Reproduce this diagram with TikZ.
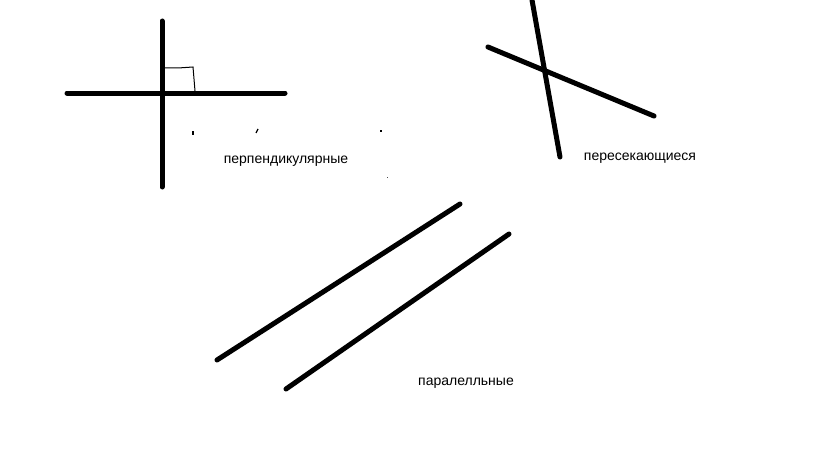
\documentclass[tikz,border=0pt]{standalone}
\usepackage{fontspec}
\setmainfont{Liberation Sans}
\begin{document}
\begin{tikzpicture}[x=1pt,y=-1pt,
  thickline/.style={line width=5pt,line cap=round,black},
  thinline/.style={line width=1pt,black},
  speck/.style={line width=1.2pt,black},
  lbl/.style={font=\fontsize{14}{16}\selectfont,inner sep=0pt,anchor=center}]
\useasboundingbox[fill=white] (0,0) rectangle (819,460);
% perpendicular
\coordinate (pv1) at (162,21);
\coordinate (pv2) at (162,187);
\coordinate (ph1) at (67,93);
\coordinate (ph2) at (285,93);
\draw[thickline] (pv1) -- (pv2);
\draw[thickline] (ph1) -- (ph2);
\coordinate (ra1) at (165,68);
\coordinate (ra2) at (178,68);
\coordinate (ra3) at (193,67);
\coordinate (ra4) at (195,91);
\draw[thinline] (ra1) -- (ra2) -- (ra3) -- (ra4);
% specks
\coordinate (s1a) at (193,131); \coordinate (s1b) at (193,135);
\draw[speck] (s1a) -- (s1b);
\coordinate (s2a) at (258,129); \coordinate (s2b) at (256,133);
\draw[speck] (s2a) -- (s2b);
\coordinate (s3a) at (381,130); \coordinate (s3b) at (381,132);
\draw[speck] (s3a) -- (s3b);
\coordinate (s4a) at (387,177); \coordinate (s4b) at (387,178);
\draw[line width=0.8pt,black!70] (s4a) -- (s4b);
\node[lbl] (tperp) at (286,161) {перпендикулярные};
% intersecting
\coordinate (i1a) at (532,0);
\coordinate (i1b) at (560,157);
\coordinate (i2a) at (488,47);
\coordinate (i2b) at (654,116);
\draw[thickline] (i1a) -- (i1b);
\draw[thickline] (i2a) -- (i2b);
\node[lbl] (tint) at (640,158) {пересекающиеся};
% parallel
\coordinate (p1a) at (217,360);
\coordinate (p1b) at (460,204);
\coordinate (p2a) at (286,389);
\coordinate (p2b) at (509,234);
\draw[thickline] (p1a) -- (p1b);
\draw[thickline] (p2a) -- (p2b);
\node[lbl] (tpar) at (466,383) {паралелльные};
\end{tikzpicture}
\end{document}
